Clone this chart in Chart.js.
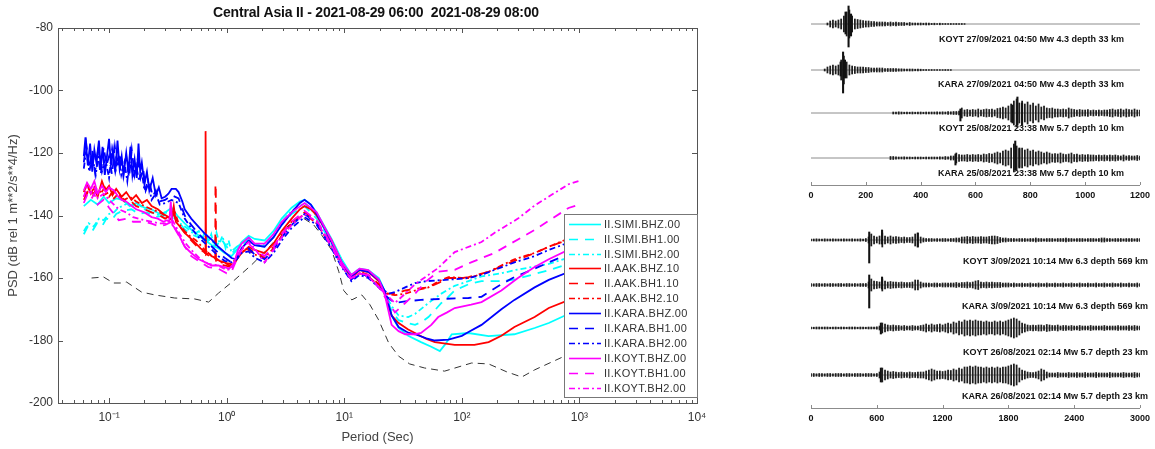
<!DOCTYPE html>
<html>
<head>
<meta charset="utf-8">
<script src="https://cdn.jsdelivr.net/npm/chart.js@4.4.0/dist/chart.umd.min.js"></script>
<style>
  html, body { margin: 0; padding: 0; background: #fff; }
  #wrap { position: relative; width: 1155px; height: 449px; overflow: hidden; background: #fff; }
  canvas { position: absolute; }
  #psd { left: 0; top: 0; }
  #quakesTop { left: 790px; top: 0; }
  #quakesBottom { left: 790px; top: 220px; }
</style>
</head>
<body>
<div id="wrap">
  <canvas id="psd" width="720" height="449"></canvas>
  <canvas id="quakesTop" width="365" height="215"></canvas>
  <canvas id="quakesBottom" width="365" height="229"></canvas>
</div>
<script>
// ---- PSD panel data: [period (s), dB] ----
const chartTitle = 'Central Asia II - 2021-08-29 06:00  2021-08-29 08:00';
const channelNames = ['II.SIMI.BHZ.00', 'II.SIMI.BH1.00', 'II.SIMI.BH2.00',
                      'II.AAK.BHZ.10', 'II.AAK.BH1.10', 'II.AAK.BH2.10',
                      'II.KARA.BHZ.00', 'II.KARA.BH1.00', 'II.KARA.BH2.00',
                      'II.KOYT.BHZ.00', 'II.KOYT.BH1.00', 'II.KOYT.BH2.00'];
const decadeTicks = [0.1, 1, 10, 100, 1000, 10000];
const decadeLabels = ['10⁻¹', '10⁰', '10¹', '10²', '10³', '10⁴'];

const simiBHZ = [[0.061,-137],[0.07,-135],[0.08,-136.5],[0.09,-134],[0.1,-136],[0.115,-134.5],[0.13,-135],[0.15,-137],[0.17,-136],[0.2,-137.5],[0.23,-138],[0.27,-139.5],[0.3,-139],[0.34,-137.5],[0.38,-140],[0.44,-142.5],[0.5,-144.5],[0.58,-146.5],[0.66,-148],[0.75,-149.5],[0.85,-150.5],[0.96,-152],[1.1,-153],[1.22,-151],[1.34,-148.5],[1.54,-146.5],[1.73,-147.5],[2.1,-148],[2.5,-145],[2.94,-141],[3.57,-137.5],[4.2,-135.5],[4.6,-135],[5.2,-136.5],[5.83,-139],[6.8,-143.5],[7.8,-147.5],[9.5,-154],[11.5,-159],[13.5,-157],[16,-157.5],[19.7,-160],[22,-164],[25.3,-172],[29,-176],[35,-178.5],[45,-180.5],[55,-182],[65,-183.4],[73,-181],[82,-178],[114,-177.6],[169,-178.6],[280,-178],[416,-176],[549,-174.4],[985,-170]];
const simiBH1 = [[0.061,-146],[0.066,-143.5],[0.072,-145],[0.079,-142.5],[0.087,-143.5],[0.095,-141],[0.105,-141.5],[0.115,-139.5],[0.13,-138.5],[0.155,-138],[0.18,-139.5],[0.21,-139],[0.25,-140.5],[0.3,-140],[0.34,-139],[0.39,-142],[0.44,-144.5],[0.5,-146],[0.58,-147],[0.63,-145.5],[0.7,-148],[0.76,-146.5],[0.83,-149.5],[0.9,-147.5],[1.0,-150],[1.1,-151.5],[1.22,-150],[1.34,-149],[1.54,-147],[1.73,-149.5],[2.1,-150],[2.5,-147],[2.94,-143],[3.57,-139.5],[4.6,-137],[5.83,-141],[7.8,-149],[9.5,-155],[11.5,-159.5],[13.5,-157.5],[16,-158],[19.7,-161],[22,-165],[25.3,-170.5],[29,-173.5],[35,-174.5],[40,-175],[46,-174],[52,-172.5],[60,-170],[67,-168],[77,-166],[87,-164],[114,-162],[147,-161],[217,-161],[280,-160.5],[549,-157.5],[985,-154.5]];
const simiBH2 = [[0.061,-145],[0.067,-142.5],[0.074,-143.5],[0.082,-141],[0.09,-141.5],[0.1,-139.5],[0.11,-139],[0.12,-137.5],[0.13,-137],[0.145,-136],[0.16,-137],[0.18,-136.5],[0.2,-138],[0.23,-139],[0.27,-140],[0.3,-139],[0.34,-140],[0.4,-142.5],[0.46,-144],[0.53,-146],[0.58,-145],[0.62,-147.5],[0.66,-144.5],[0.7,-148.5],[0.74,-146],[0.78,-150],[0.82,-145.5],[0.87,-149],[0.92,-146.5],[0.98,-150.5],[1.04,-148],[1.1,-152],[1.22,-151],[1.34,-149.5],[1.54,-147.5],[1.73,-149],[2.1,-149.5],[2.5,-146],[2.94,-142],[3.57,-138.5],[4.6,-136],[5.83,-140],[7.8,-148.5],[9.5,-154.5],[11.5,-159],[13.5,-157],[16,-157.8],[19.7,-160.5],[22,-164.5],[25.3,-169],[29,-172],[35,-172.5],[40,-171.5],[52,-168],[67,-165],[87,-162.5],[114,-161],[147,-159.5],[217,-158.5],[280,-157.5],[549,-155.5],[985,-152.5]];
const aakBHZ = [[0.061,-132.5],[0.065,-130],[0.07,-133],[0.075,-131],[0.08,-134],[0.087,-129],[0.093,-132],[0.1,-130.5],[0.107,-133.5],[0.115,-131.5],[0.128,-134],[0.14,-132.5],[0.155,-135],[0.17,-133.5],[0.19,-136],[0.21,-135],[0.23,-137],[0.26,-138],[0.29,-139.5],[0.32,-140.5],[0.34,-141.4],[0.355,-137],[0.37,-142],[0.4,-143.5],[0.44,-145.6],[0.5,-147.5],[0.55,-149],[0.6,-150.5],[0.645,-151.5],[0.655,-152],[0.66,-113],[0.664,-113],[0.668,-152.5],[0.7,-152],[0.745,-153],[0.8,-153.5],[0.87,-154.5],[0.96,-155],[1.05,-156],[1.15,-155.5],[1.25,-153.5],[1.34,-152],[1.54,-150],[1.73,-151],[2.1,-152],[2.5,-149],[2.94,-145],[3.57,-141],[4.2,-138],[4.6,-137],[5.2,-138],[5.83,-140],[6.8,-144],[7.8,-148],[9.5,-155],[11.5,-160],[13.5,-157.5],[16,-158],[19.7,-161],[22,-165],[25.3,-172],[29,-174.4],[35,-176.5],[40,-177.6],[50,-179.5],[59,-180.5],[87,-181.4],[128,-181.4],[169,-180.5],[217,-178.5],[280,-175.7],[416,-172.5],[549,-169.6],[985,-165.8]];
const aakBH1 = [[0.061,-135],[0.066,-132.5],[0.072,-134],[0.078,-131.5],[0.085,-133],[0.092,-131],[0.1,-134],[0.11,-132],[0.12,-133.5],[0.135,-135.5],[0.15,-135],[0.17,-137],[0.2,-138],[0.23,-139],[0.27,-140],[0.3,-141],[0.33,-140],[0.35,-139],[0.38,-142.5],[0.42,-144.5],[0.5,-148],[0.58,-150.5],[0.66,-152],[0.74,-153.5],[0.8,-154],[0.803,-130],[0.809,-130],[0.812,-154.5],[0.88,-155.5],[0.96,-156],[1.1,-156.5],[1.22,-154],[1.34,-151.5],[1.54,-150.5],[1.73,-152],[2.1,-153],[2.5,-150],[2.94,-146],[3.57,-142],[4.6,-139],[5.83,-142],[7.8,-149],[9.5,-155.5],[11.5,-160],[13.5,-158],[16,-159],[19.7,-162],[23,-165],[27,-165],[33,-164],[40,-163.5],[52,-163],[64,-161.5],[77,-160],[100,-160],[114,-159.7],[169,-158],[280,-154.5],[416,-152],[549,-150],[985,-146.5]];
const aakBH2 = [[0.061,-134],[0.067,-131.5],[0.074,-133],[0.082,-132],[0.09,-133.5],[0.1,-132.5],[0.11,-134.5],[0.12,-133],[0.135,-135],[0.15,-134],[0.17,-135.5],[0.2,-137],[0.23,-138],[0.27,-139],[0.3,-140],[0.34,-141],[0.36,-138.5],[0.39,-142.5],[0.44,-145],[0.5,-147],[0.55,-148],[0.65,-151],[0.75,-153],[0.9,-155],[1.1,-155.5],[1.22,-153.5],[1.34,-151.5],[1.54,-151],[1.73,-152.5],[2.1,-153.5],[2.5,-150.5],[2.94,-146.5],[3.57,-142.5],[4.6,-139.5],[5.83,-142.5],[7.8,-150],[9.5,-156],[11.5,-160.5],[13.5,-158.5],[16,-159.5],[19.7,-162.5],[23,-165],[27,-165.5],[33,-165],[40,-164],[52,-163],[64,-161],[77,-159.7],[100,-160],[114,-160],[169,-158],[280,-154],[416,-152],[549,-150],[985,-146]];
const karaBHZ = [[0.061,-121],[0.063,-115],[0.066,-124],[0.069,-117],[0.072,-126],[0.075,-119],[0.078,-123],[0.082,-116],[0.085,-125],[0.088,-118],[0.092,-127],[0.096,-121],[0.1,-115.5],[0.104,-124],[0.108,-119],[0.113,-126],[0.118,-116],[0.123,-125],[0.128,-121],[0.133,-127],[0.14,-120],[0.146,-126],[0.152,-118],[0.158,-127],[0.165,-122],[0.172,-128],[0.178,-117],[0.184,-126],[0.19,-123],[0.2,-130],[0.21,-126],[0.22,-132],[0.235,-128],[0.25,-133.5],[0.265,-131],[0.28,-134.5],[0.3,-134],[0.32,-133],[0.34,-131.5],[0.37,-131.5],[0.39,-132.5],[0.42,-135.5],[0.44,-138],[0.5,-141],[0.58,-143.7],[0.66,-146],[0.75,-147.8],[0.85,-150],[0.96,-151.7],[1.1,-153.6],[1.2,-154],[1.34,-150.5],[1.54,-148],[1.73,-149.5],[2.1,-150],[2.5,-147],[2.94,-143],[3.57,-139],[4.2,-136],[4.6,-135],[5.2,-136.5],[5.83,-139.5],[6.8,-144],[7.8,-148.5],[9.5,-155],[11.5,-159.5],[13.5,-157.4],[16,-158],[19.7,-160.6],[22,-164],[25.3,-172],[29,-175.7],[35,-177.5],[40,-178],[50,-179.3],[59,-180],[77,-179.7],[100,-178.5],[114,-177.3],[147,-175],[217,-170],[280,-167],[416,-163],[549,-160.6],[985,-156.8]];
const karaBH1 = [[0.061,-123],[0.064,-117],[0.068,-125],[0.072,-119],[0.076,-126],[0.08,-120],[0.085,-127],[0.09,-118],[0.095,-124],[0.1,-121],[0.106,-127],[0.112,-118],[0.118,-125],[0.125,-120],[0.132,-127],[0.14,-121],[0.148,-128],[0.156,-119],[0.165,-127],[0.175,-122],[0.185,-128],[0.195,-125],[0.205,-132],[0.22,-129],[0.235,-134],[0.25,-132],[0.27,-135.5],[0.3,-135],[0.34,-133.5],[0.39,-134.5],[0.44,-140],[0.5,-143],[0.58,-146],[0.66,-148],[0.75,-150],[0.85,-152],[0.96,-153.5],[1.1,-155],[1.22,-153.5],[1.34,-151.5],[1.54,-150.5],[1.73,-152.5],[2.1,-154],[2.5,-151],[2.94,-147],[3.57,-143],[4.6,-139.5],[5.83,-142.5],[7.8,-150],[9.5,-156],[11.5,-160.5],[13.5,-158.5],[16,-159.5],[19.7,-163],[23,-166],[27,-168],[33,-167.5],[45,-167],[67,-166.7],[114,-166.4],[147,-166],[217,-162],[280,-159.7],[416,-157],[549,-155],[985,-151]];
const karaBH2 = [[0.061,-125],[0.064,-119],[0.068,-126],[0.072,-121],[0.077,-127],[0.082,-120],[0.087,-126],[0.093,-122],[0.1,-128],[0.106,-119],[0.113,-126],[0.12,-121],[0.127,-127],[0.135,-123],[0.143,-129],[0.152,-120],[0.16,-128],[0.17,-124],[0.18,-129],[0.19,-126],[0.2,-132],[0.215,-129],[0.23,-135],[0.25,-133],[0.27,-136.5],[0.3,-136],[0.34,-135],[0.39,-136],[0.44,-141],[0.5,-144],[0.58,-147],[0.66,-149],[0.75,-151],[0.85,-153],[0.96,-154.5],[1.1,-155],[1.22,-154],[1.34,-152],[1.54,-151.5],[1.73,-153.5],[2.1,-155],[2.5,-152],[2.94,-148],[3.57,-144],[4.6,-140.5],[5.83,-143],[7.8,-150.5],[9.5,-156.5],[11.5,-161],[13.5,-159],[16,-160],[19.7,-163],[24,-165],[27,-164.5],[33,-163],[40,-161.6],[50,-161],[80,-160.5],[114,-160],[147,-159],[280,-155],[416,-153],[549,-151],[985,-147.5]];
const koytBHZ = [[0.061,-132],[0.065,-129.5],[0.07,-131.5],[0.075,-129],[0.08,-133],[0.087,-130.5],[0.094,-132.5],[0.1,-131],[0.11,-132],[0.12,-134],[0.128,-135],[0.14,-135.5],[0.15,-136.5],[0.17,-138],[0.2,-139],[0.23,-140.5],[0.26,-141],[0.29,-142],[0.31,-141.5],[0.325,-142],[0.335,-135.5],[0.345,-143],[0.37,-144.5],[0.39,-146],[0.44,-150],[0.5,-152],[0.58,-154],[0.66,-155],[0.745,-156],[0.85,-156],[0.96,-156.5],[1.05,-157],[1.15,-155.5],[1.25,-151],[1.34,-149],[1.54,-147],[1.73,-149],[2.1,-149],[2.5,-146],[2.94,-142],[3.57,-139],[4.6,-136],[5.83,-139],[7.8,-148],[9.5,-155],[11.5,-159],[13.5,-157],[16,-157.5],[19.7,-160.5],[22,-165],[25.3,-175],[29,-177],[33,-178],[40,-178],[45,-177.6],[55,-175],[63,-172.5],[75,-171],[87,-169.6],[120,-168.5],[147,-167.7],[217,-164],[300,-160],[416,-156.5],[549,-154],[985,-149.4]];
const koytBH1 = [[0.061,-136],[0.065,-133.5],[0.07,-135],[0.075,-133],[0.08,-136.5],[0.09,-135],[0.1,-137.5],[0.11,-139.5],[0.121,-141.5],[0.14,-141],[0.16,-142],[0.2,-142],[0.23,-142.6],[0.27,-143.5],[0.3,-143],[0.34,-142],[0.36,-144],[0.4,-147],[0.45,-150.5],[0.5,-153],[0.6,-155],[0.7,-156.5],[0.85,-157],[1.0,-158.5],[1.1,-158],[1.22,-154],[1.34,-151],[1.54,-149],[1.73,-151],[2.1,-153],[2.5,-150],[2.94,-146],[3.57,-142],[4.6,-138.5],[5.83,-141.5],[7.8,-149.5],[9.5,-156],[11.5,-160],[13.5,-158.5],[16,-159],[19.7,-163],[23,-167],[27,-171],[33,-168],[40,-165],[50,-161],[63,-158],[87,-157.4],[120,-155],[189,-152],[416,-144.6],[808,-137.6],[985,-136.6]];
const koytBH2 = [[0.061,-134],[0.065,-131],[0.07,-133],[0.075,-130.5],[0.08,-134.5],[0.09,-133],[0.1,-135],[0.11,-136.5],[0.121,-138],[0.14,-139],[0.16,-140.5],[0.2,-141.5],[0.23,-142],[0.27,-142.5],[0.3,-142.5],[0.34,-141],[0.37,-143.5],[0.4,-146],[0.45,-149],[0.5,-151],[0.6,-154],[0.7,-155.5],[0.85,-156],[1.0,-157.5],[1.1,-157],[1.22,-153],[1.34,-150.5],[1.54,-148.5],[1.73,-150.5],[2.1,-155],[2.5,-151],[2.94,-147],[3.57,-143],[4.6,-139.5],[5.83,-142],[7.8,-150],[9.5,-156],[11.5,-160.5],[13.5,-158.5],[16,-159.5],[19.7,-163],[23,-165.5],[27,-168],[33,-165],[40,-162],[52,-159],[63,-156.8],[75,-154],[87,-151.7],[147,-148.5],[189,-145.6],[300,-141],[416,-136.8],[808,-130],[985,-129]];
const lowNoiseModel = [[0.071,-160],[0.09,-159.7],[0.109,-161.6],[0.125,-161.6],[0.141,-161.3],[0.189,-164.5],[0.244,-165.4],[0.361,-166.4],[0.534,-166.7],[0.703,-167.7],[0.855,-164.8],[1.17,-160.6],[1.63,-155.8],[2.19,-151],[2.94,-145.5],[3.6,-142],[4.34,-140.5],[5.5,-143],[6.5,-146.5],[7.8,-151],[9.0,-158],[9.9,-164],[11.6,-167],[14.1,-165.4],[16.5,-168.5],[19.6,-173.4],[23.9,-180.8],[29,-185],[36,-187.5],[48.3,-188.8],[71.4,-189.8],[121,-187.2],[169,-187.5],[240,-190],[323,-191.7],[416,-189.4],[748,-185],[985,-183]];

const psdSeries = [simiBHZ, simiBH1, simiBH2, aakBHZ, aakBH1, aakBH2,
                   karaBHZ, karaBH1, karaBH2, koytBHZ, koytBH1, koytBH2];

// ---- seismogram panels: envelope half-amplitudes, sampled from `start` every `step` seconds ----
const topTicks = [0, 200, 400, 600, 800, 1000, 1200];
const bottomTicks = [0, 600, 1200, 1800, 2400, 3000];
const topLabels = ['KOYT 27/09/2021 04:50 Mw 4.3 depth 33 km', 'KARA 27/09/2021 04:50 Mw 4.3 depth 33 km',
                   'KOYT 25/08/2021 23:38 Mw 5.7 depth 10 km', 'KARA 25/08/2021 23:38 Mw 5.7 depth 10 km'];
const bottomLabels = ['KOYT 3/09/2021 10:14 Mw 6.3 depth 569 km', 'KARA 3/09/2021 10:14 Mw 6.3 depth 569 km',
                      'KOYT 26/08/2021 02:14 Mw 5.7 depth 23 km', 'KARA 26/08/2021 02:14 Mw 5.7 depth 23 km'];

const koytQuake1 = [1,3,4,3,4,5,8,12,14,8,5,4.5,4,3.5,3,3,2.5,2.5,2,2,2,2,1.5,2,1.5,2,1.5,1.5,1.5,1,1.5,1,1,1,1,0.8,1,0.8,0.6,0.8,0.5,0.8,0.5,0.5,0.5,0.5,0.4,0.5,0.4,0.5,0.4];
const koytQuake1Peaks = [[126,12,10],[137,18,23],[146,10,12]];
const karaQuake1 = [1,3,4,5,4,5,10,14,8,5,4,3.5,3,3,3,2.5,2.5,2,2,2,2,2,1.5,1.5,1.5,1.5,1.5,1.2,1.2,1,1,1,1,0.8,0.8,0.8,0.5,0.5,0.4,0.5,0.4,0.5,0.4,0.4,0.5,0.4,0.4];
const karaQuake1Peaks = [[108,8,6],[117,18,23],[124,10,8]];
const koytQuake2 = [1,1,1.2,1,0.8,1,0.8,1,0.8,0.8,1,0.8,1,0.8,1,1,1.2,1,1.2,1,1.5,1.2,1.5,1.5,2,5,3,3.5,3,3.5,3,4,3,3.5,4,3.5,4,3,4.5,5,6,5,7,9,12,14,10,12,9,11,8,10,7,9,6,7,5,4.5,5,4,4,3.5,4,3.5,5,4,3.5,3,3.5,3,3,3.5,2.5,3,2.5,3,2.5,3,3,3.5,4,3,3.5,4,3,4,3.5,3,4,3,3];
const koytQuake2Peaks = [[545,4,8],[735,8,10],[753,16,12],[770,10,12]];
const karaQuake2 = [1.5,1.5,1.2,1,1,1.2,0.8,1,0.8,1,0.8,1,0.8,1,0.8,1,1,1,1.2,1,1.5,1.2,2,2,5,3.5,3,3,3.5,3,3.5,3,3.5,3,4,3.5,4.5,4,5,6,5,7,8,7,10,14,12,9,10,8,9,7,8,6,7,6,5,6,5,4,4.5,4,5,4,3.5,4,5,3.5,4,3,3.5,3,3.5,3,3,2.5,3,2.5,3,2.5,3,2.5,3,2.5,2,3,2,2.5,2,2,2.5,2];
const karaQuake2Peaks = [[527,4,7],[745,17,12],[760,10,10]];

const koytQuake3 = [1,1,1.2,1,1,1.2,1,1,1.2,1,1,1,1.2,1,1,1.2,1,1,1.2,1,1.5,
  3,6,4,3,4,7,4,3,4,3,3.5,3,2.5,3,2.5,2.5,3,6,7,3,
  2,1.5,1.5,1.5,1.2,1.5,1.2,1.5,1.5,1.2,1.5,1.5,2,2,3,3,3.5,3,3.5,3,3,3.5,3,3,3.5,4,4,3.5,2.5,2,2,1.5,
  1.5,1.5,1.2,1.5,1.5,1.5,1.2,1.5,1.5,2,1.5,1.5,1.2,1.5,1.5,1.5,1.2,1.5,1.5,1.5,2,1.5,1.5,1.2,1.5,1.5,1.5,1.2,1.5,1.5,1.5,1.2,1.5,2,2,1.5,1.5,1.2,1.5,1.5,1.5,1.2,1.5,1.5,1.5,1.2,1.5,1.5];
const koytQuake3Peaks = [[531,8,23],[648,10,4],[973,7,7]];
const karaQuake3 = [1.5,1.2,1.5,1.5,1.2,1.5,1.2,1.5,1.5,1.2,1.5,1.5,1.2,1.5,1.5,1.2,1.5,1.2,1.5,1.5,1.5,
  3,6,4,3.5,3,6,4,3,3.5,3,3,2.5,3,2.5,2.5,2.5,3,5,5,3,
  2,2,2,1.5,2,2,1.5,2,2,2,2,2,2.5,2,2.5,2.5,3,2.5,3,4,4.5,3,2.5,3,2.5,3,2.5,2.5,2.5,2,2,2,
  1.5,2,1.5,1.5,2,1.5,1.5,2,1.5,1.5,2,1.5,1.5,2,1.5,1.5,2,1.5,1.5,2,1.5,1.5,2,1.5,1.5,2,1.5,1.5,2,1.5,1.5,2,1.5,1.5,2,1.5,1.5,2,1.5,1.5,2,1.5,1.5,2,1.5,1.5,2,1.5];
const karaQuake3Peaks = [[531,10,23],[648,8,4]];
const koytQuake4 = [1,0.8,1,1,0.8,1,1,0.8,1,1,0.8,1,1,0.8,1,1,1,0.8,1,1,0.8,1,1,1,1.2,
  2,5,4,3,2.5,3,2.5,2.5,2,2.5,2,2,2.5,2,2,2.5,3,4,3,4,3,3.5,4,3,4,5,4,6,5,7,6,8,7,8,7,8,7,7,6,7,6,6,7,6,7,6,7,8,9,10,9,7,5,4,3,
  2.5,3,2.5,3,3,2.5,3.5,3,2.5,2.5,3,2,2.5,2.5,2,2.5,2,2,2.5,2,2,2,2.5,2,2,2,2,2.5,2,2,2,2,2.5,2,2,2,2.5,2,2.5,2,2];
const koytQuake4Peaks = [[637,5,6]];
const karaQuake4 = [1.5,1.5,1.2,1.5,1.5,1.2,1.5,1.5,1.2,1.5,1.5,1.5,1.2,1.5,1.5,1.2,1.5,1.5,1.5,1.2,1.5,1.5,1.5,1.2,1.5,
  3,7,5,4,3,3.5,3,2.5,3,2.5,2.5,3,2.5,2.5,3,3,3,4,5,6,5,4,4,3.5,4,5,4.5,6,5,7,6,8,8,9,8,9,8,8,7,8,7,8,7,8,7,8,8,9,10,11,10,7,5,4,3,
  2.5,2.5,3,4,6,5,3,2,2,2,2.5,2,2,2,2.5,2,2,2.5,2,2,2.5,2,2,2,2.5,2,2,2,2,2.5,2,2,2,2,2.5,2,2,2,2.5,2,2];
const karaQuake4Peaks = [[637,7,7]];

// ---- styles ----
const FONT = '"Liberation Sans", Arial, sans-serif';
Chart.defaults.font.family = FONT;
Chart.defaults.animation = false;
Chart.defaults.plugins.legend.display = false;
Chart.defaults.plugins.tooltip.enabled = false;

const lineColors = ['#00ffff', '#00ffff', '#00ffff', '#ff0000', '#ff0000', '#ff0000',
                    '#0000ff', '#0000ff', '#0000ff', '#ff00ff', '#ff00ff', '#ff00ff'];
const dashStyles = [[], [9, 7], [6, 3, 2, 3]];

// minor log ticks (2..9 per decade) + the labelled decades
const periodTicks = [];
[0.01, 0.1, 1, 10, 100, 1000].forEach(d => {
  for (let k = 1; k <= 9; k++) {
    const v = d * k;
    if (k === 1) { if (d >= 0.1) periodTicks.push(d); }
    else if (v >= 0.037 && v <= 10000) periodTicks.push(v);
  }
});
periodTicks.push(10000);

const psdFrame = {
  id: 'psdFrame',
  afterDraw(chart) {
    const {ctx, chartArea: a, scales: {x, y}} = chart;
    ctx.save();
    ctx.strokeStyle = '#555';
    ctx.lineWidth = 1;
    ctx.strokeRect(a.left + 0.5, a.top + 0.5, a.right - a.left, a.bottom - a.top);
    ctx.beginPath();
    x.ticks.forEach(t => {
      const px = Math.round(x.getPixelForValue(t.value)) + 0.5;
      const len = decadeTicks.includes(t.value) ? 5 : 3;
      ctx.moveTo(px, a.bottom); ctx.lineTo(px, a.bottom - len);
      ctx.moveTo(px, a.top); ctx.lineTo(px, a.top + len);
    });
    y.ticks.forEach(t => {
      const py = Math.round(y.getPixelForValue(t.value)) + 0.5;
      ctx.moveTo(a.left, py); ctx.lineTo(a.left + 5, py);
      ctx.moveTo(a.right, py); ctx.lineTo(a.right - 5, py);
    });
    ctx.stroke();

    // title
    ctx.fillStyle = '#111';
    ctx.font = 'bold 14px ' + FONT;
    ctx.textAlign = 'center';
    ctx.textBaseline = 'middle';
    ctx.letterSpacing = '-0.2px';
    ctx.fillText(chartTitle, 376, 13);
    ctx.letterSpacing = '0px';

    // legend box inside the plot, bottom right
    const bx = 564, by = 214, bw = 134, bh = 184;
    ctx.fillStyle = '#fff';
    ctx.fillRect(bx, by, bw, bh);
    ctx.strokeStyle = '#777';
    ctx.strokeRect(bx + 0.5, by + 0.5, bw - 1, bh - 1);
    ctx.font = '11px ' + FONT;
    ctx.textAlign = 'left';
    ctx.letterSpacing = '0.3px';
    chart.data.datasets.slice(0, channelNames.length).forEach((ds, i) => {
      const ly = Math.round(223.6 + i * 14.95) + 0.5;
      ctx.strokeStyle = ds.borderColor;
      ctx.lineWidth = 1.6;
      ctx.setLineDash(ds.borderDash);
      ctx.beginPath();
      ctx.moveTo(569, ly); ctx.lineTo(601, ly);
      ctx.stroke();
      ctx.setLineDash([]);
      ctx.fillStyle = '#333';
      ctx.fillText(ds.label, 604, ly);
    });
    ctx.restore();
  }
};

const psdDatasets = channelNames.map((name, i) => ({
  label: name,
  data: psdSeries[i].map(([p, db]) => ({x: p, y: db})),
  borderColor: lineColors[i],
  borderDash: dashStyles[i % 3],
  borderWidth: 1.8,
  pointRadius: 0,
  fill: false,
  order: 20 - i
}));
psdDatasets.push({
  label: 'NLNM',
  data: lowNoiseModel.map(([p, db]) => ({x: p, y: db})),
  borderColor: '#333',
  borderDash: [7, 5],
  borderWidth: 1,
  pointRadius: 0,
  fill: false,
  order: 40
});

new Chart('psd', {
  type: 'line',
  data: {datasets: psdDatasets},
  options: {
    responsive: false,
    events: [],
    layout: {padding: {left: 0, right: 23, top: 28, bottom: 0}},
    scales: {
      x: {
        type: 'logarithmic',
        min: 0.0368, max: 10000,
        afterBuildTicks: s => { s.ticks = periodTicks.map(v => ({value: v})); },
        afterFit: s => { s.height = 46; },
        grid: {display: false, drawTicks: false},
        border: {display: true, color: '#555'},
        ticks: {
          autoSkip: false, maxRotation: 0, padding: 7, color: '#333', font: {size: 12},
          callback: v => { const k = decadeTicks.indexOf(v); return k < 0 ? '' : decadeLabels[k]; }
        },
        title: {display: true, text: 'Period (Sec)', color: '#444', font: {size: 13}, padding: {top: 0, bottom: 4}}
      },
      y: {
        min: -200, max: -80,
        afterFit: s => { s.width = 58; },
        grid: {display: false, drawTicks: false},
        border: {display: true, color: '#555'},
        ticks: {stepSize: 20, color: '#333', font: {size: 12}, padding: 5},
        title: {display: true, text: 'PSD (dB rel 1 m**2/s**4/Hz)', color: '#444', font: {size: 13}, padding: {top: 6, bottom: 0}}
      }
    }
  },
  plugins: [psdFrame]
});

// ---- seismogram panels ----
function drawQuakes(id, panel) {
  const datasets = [];
  panel.traces.forEach((tr, i) => {
    const off = panel.offsets[i];
    datasets.push({
      type: 'line', data: [{x: 0, y: off}, {x: panel.tMax, y: off}],
      borderColor: '#8c8c8c', borderWidth: 1, pointRadius: 0, order: 3
    });
    datasets.push({
      type: 'bar', grouped: false, barThickness: 1.1, order: 2,
      backgroundColor: '#1e1e1e', borderWidth: 0,
      data: tr.amp.map((a, k) => ({x: tr.start + k * tr.step, y: [off - a, off + a]}))
    });
    datasets.push({
      type: 'bar', grouped: false, barThickness: 1.4, order: 1,
      backgroundColor: '#111', borderWidth: 0,
      data: tr.peaks.map(([t, up, down]) => ({x: t, y: [off - up, off + down]}))
    });
  });

  const traceText = {
    id: 'traceText',
    afterDraw(chart) {
      const {ctx, chartArea: a, scales: {x}} = chart;
      ctx.save();
      ctx.strokeStyle = '#8c8c8c';
      ctx.lineWidth = 1;
      ctx.beginPath();
      panel.ticks.forEach(v => {
        const px = Math.round(x.getPixelForValue(v)) + 0.5;
        ctx.moveTo(px, a.bottom); ctx.lineTo(px, a.bottom - 3);
      });
      ctx.stroke();
      ctx.fillStyle = '#111';
      ctx.font = 'bold 9px "Liberation Sans Narrow", "Arial Narrow", ' + FONT;
      ctx.textAlign = 'right';
      ctx.textBaseline = 'middle';
      panel.labels.forEach((txt, i) => ctx.fillText(txt, panel.labelRight, panel.labelY[i]));
      ctx.restore();
    }
  };

  new Chart(id, {
    type: 'bar',
    data: {datasets},
    options: {
      responsive: false,
      events: [],
      layout: {padding: {left: 21, right: 11, top: 0, bottom: 0}},
      scales: {
        x: {
          type: 'linear', min: 0, max: panel.tMax, offset: false,
          afterBuildTicks: s => { s.ticks = panel.ticks.map(v => ({value: v})); },
          afterFit: s => { s.height = panel.axisHeight; },
          grid: {display: false, drawTicks: false},
          border: {display: true, color: '#8c8c8c'},
          ticks: {autoSkip: false, maxRotation: 0, padding: 5, color: '#111',
                  font: {size: 9, weight: 'bold'}, callback: v => String(v)}
        },
        y: {display: false, min: 0, max: panel.areaHeight, reverse: true}
      }
    },
    plugins: [traceText]
  });
}

drawQuakes('quakesTop', {
  tMax: 1200, ticks: topTicks, labels: topLabels,
  axisHeight: 30, areaHeight: 185,
  offsets: [24, 70, 113, 158], labelY: [40, 85, 129, 174], labelRight: 334,
  traces: [
    {start: 60, step: 10, amp: koytQuake1, peaks: koytQuake1Peaks},
    {start: 50, step: 10, amp: karaQuake1, peaks: karaQuake1Peaks},
    {start: 300, step: 10, amp: koytQuake2, peaks: koytQuake2Peaks},
    {start: 290, step: 10, amp: karaQuake2, peaks: karaQuake2Peaks}
  ]
});

drawQuakes('quakesBottom', {
  tMax: 3000, ticks: bottomTicks, labels: bottomLabels,
  axisHeight: 41, areaHeight: 188,
  offsets: [20, 65, 108, 155], labelY: [42, 87, 133, 177], labelRight: 358,
  traces: [
    {start: 0, step: 25, amp: koytQuake3, peaks: koytQuake3Peaks},
    {start: 0, step: 25, amp: karaQuake3, peaks: karaQuake3Peaks},
    {start: 0, step: 25, amp: koytQuake4, peaks: koytQuake4Peaks},
    {start: 0, step: 25, amp: karaQuake4, peaks: karaQuake4Peaks}
  ]
});
</script>
</body>
</html>
